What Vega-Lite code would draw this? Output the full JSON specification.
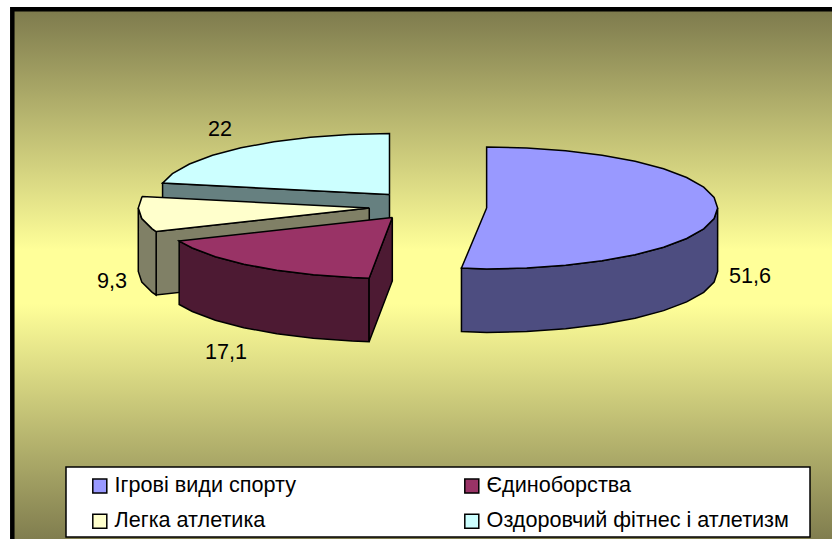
{
"$schema":"https://vega.github.io/schema/vega-lite/v6.json",
"width":832,"height":539,
"autosize":{"type":"fit","contains":"padding"},
"padding":0,
"background":"white",
"view":{"stroke":null},
"config":{"text":{"font":"Liberation Sans"}},
"layer":[
{"data":{"values":[{"x":-1.6784,"x2":1.9048,"y":3.259,"y2":-5.5246}]},
 "mark":{"type":"rect","clip":true,"stroke":"black","strokeWidth":4.5,"fill":{"gradient":"linear","x1":0,"y1":0,"x2":0,"y2":1,"stops":[{"offset":0,"color":"#7d7a4d"},{"offset":0.45,"color":"#ffff99"},{"offset":0.55,"color":"#ffff99"},{"offset":1,"color":"#7d7a4d"}]}},
 "encoding":{"x":{"field":"x","type":"quantitative","axis":null,"scale":{"domain":[-1.7316,1.8701],"nice":false,"zero":false}},"x2":{"field":"x2"},"y":{"field":"y","type":"quantitative","axis":null,"scale":{"domain":[-5.4262,3.4098],"nice":false,"zero":false}},"y2":{"field":"y2"}}},
{"data":{"values":[
{"face":"Оздоровчий фітнес і атлетизм, бік","part":"cut","i":0,"x":-0.0455,"y":0.221},
{"face":"Оздоровчий фітнес і атлетизм, бік","part":"cut","i":1,"x":-1.0278,"y":0.4084},
{"face":"Оздоровчий фітнес і атлетизм, бік","part":"cut","i":2,"x":-1.0278,"y":-0.6316},
{"face":"Оздоровчий фітнес і атлетизм, бік","part":"cut","i":3,"x":-0.0455,"y":-0.819},
{"face":"Оздоровчий фітнес і атлетизм, бік","part":"cut","i":4,"x":-0.0455,"y":0.221},
{"face":"Оздоровчий фітнес і атлетизм","part":"top","i":0,"x":-0.0455,"y":0.221},
{"face":"Оздоровчий фітнес і атлетизм","part":"top","i":1,"x":-1.0278,"y":0.4084},
{"face":"Оздоровчий фітнес і атлетизм","part":"top","i":2,"x":-0.9852,"y":0.563},
{"face":"Оздоровчий фітнес і атлетизм","part":"top","i":3,"x":-0.9115,"y":0.721},
{"face":"Оздоровчий фітнес і атлетизм","part":"top","i":4,"x":-0.8115,"y":0.8638},
{"face":"Оздоровчий фітнес і атлетизм","part":"top","i":5,"x":-0.6883,"y":0.987},
{"face":"Оздоровчий фітнес і атлетизм","part":"top","i":6,"x":-0.5455,"y":1.087},
{"face":"Оздоровчий фітнес і атлетизм","part":"top","i":7,"x":-0.3875,"y":1.1607},
{"face":"Оздоровчий фітнес і атлетизм","part":"top","i":8,"x":-0.2191,"y":1.2058},
{"face":"Оздоровчий фітнес і атлетизм","part":"top","i":9,"x":-0.0455,"y":1.221},
{"face":"Оздоровчий фітнес і атлетизм","part":"top","i":10,"x":-0.0455,"y":0.221},
{"face":"Легка атлетика, бік","part":"cut","i":0,"x":-0.133,"y":0},
{"face":"Легка атлетика, бік","part":"cut","i":1,"x":-1.0557,"y":-0.3856},
{"face":"Легка атлетика, бік","part":"cut","i":2,"x":-1.0557,"y":-1.4256},
{"face":"Легка атлетика, бік","part":"cut","i":3,"x":-0.133,"y":-1.04},
{"face":"Легка атлетика, бік","part":"cut","i":4,"x":-0.133,"y":0},
{"face":"Легка атлетика, бік","part":"outer","i":0,"x":-1.0557,"y":-0.3856},
{"face":"Легка атлетика, бік","part":"outer","i":1,"x":-1.0727,"y":-0.342},
{"face":"Легка атлетика, бік","part":"outer","i":2,"x":-1.1178,"y":-0.1736},
{"face":"Легка атлетика, бік","part":"outer","i":3,"x":-1.133,"y":0},
{"face":"Легка атлетика, бік","part":"outer","i":4,"x":-1.133,"y":-1.04},
{"face":"Легка атлетика, бік","part":"outer","i":5,"x":-1.1178,"y":-1.2136},
{"face":"Легка атлетика, бік","part":"outer","i":6,"x":-1.0727,"y":-1.382},
{"face":"Легка атлетика, бік","part":"outer","i":7,"x":-1.0557,"y":-1.4256},
{"face":"Легка атлетика, бік","part":"outer","i":8,"x":-1.0557,"y":-0.3856},
{"face":"Легка атлетика","part":"top","i":0,"x":-0.133,"y":0},
{"face":"Легка атлетика","part":"top","i":1,"x":-1.0557,"y":-0.3856},
{"face":"Легка атлетика","part":"top","i":2,"x":-1.0727,"y":-0.342},
{"face":"Легка атлетика","part":"top","i":3,"x":-1.1178,"y":-0.1736},
{"face":"Легка атлетика","part":"top","i":4,"x":-1.133,"y":0},
{"face":"Легка атлетика","part":"top","i":5,"x":-1.1178,"y":0.1736},
{"face":"Легка атлетика","part":"top","i":6,"x":-1.1153,"y":0.1874},
{"face":"Легка атлетика","part":"top","i":7,"x":-0.133,"y":0},
{"face":"Єдиноборства, бік","part":"outer","i":0,"x":-0.1337,"y":-1.151},
{"face":"Єдиноборства, бік","part":"outer","i":1,"x":-0.2069,"y":-1.1408},
{"face":"Єдиноборства, бік","part":"outer","i":2,"x":-0.3753,"y":-1.0957},
{"face":"Єдиноборства, бік","part":"outer","i":3,"x":-0.5333,"y":-1.022},
{"face":"Єдиноборства, бік","part":"outer","i":4,"x":-0.6761,"y":-0.922},
{"face":"Єдиноборства, бік","part":"outer","i":5,"x":-0.7993,"y":-0.7988},
{"face":"Єдиноборства, бік","part":"outer","i":6,"x":-0.8993,"y":-0.656},
{"face":"Єдиноборства, бік","part":"outer","i":7,"x":-0.956,"y":-0.5416},
{"face":"Єдиноборства, бік","part":"outer","i":8,"x":-0.956,"y":-1.5816},
{"face":"Єдиноборства, бік","part":"outer","i":9,"x":-0.8993,"y":-1.696},
{"face":"Єдиноборства, бік","part":"outer","i":10,"x":-0.7993,"y":-1.8388},
{"face":"Єдиноборства, бік","part":"outer","i":11,"x":-0.6761,"y":-1.962},
{"face":"Єдиноборства, бік","part":"outer","i":12,"x":-0.5333,"y":-2.062},
{"face":"Єдиноборства, бік","part":"outer","i":13,"x":-0.3753,"y":-2.1357},
{"face":"Єдиноборства, бік","part":"outer","i":14,"x":-0.2069,"y":-2.1808},
{"face":"Єдиноборства, бік","part":"outer","i":15,"x":-0.1337,"y":-2.191},
{"face":"Єдиноборства, бік","part":"outer","i":16,"x":-0.1337,"y":-1.151},
{"face":"Єдиноборства, бік","part":"cut","i":0,"x":-0.1337,"y":-1.151},
{"face":"Єдиноборства, бік","part":"cut","i":1,"x":-0.0333,"y":-0.156},
{"face":"Єдиноборства, бік","part":"cut","i":2,"x":-0.0333,"y":-1.196},
{"face":"Єдиноборства, бік","part":"cut","i":3,"x":-0.1337,"y":-2.191},
{"face":"Єдиноборства, бік","part":"cut","i":4,"x":-0.1337,"y":-1.151},
{"face":"Єдиноборства","part":"top","i":0,"x":-0.0333,"y":-0.156},
{"face":"Єдиноборства","part":"top","i":1,"x":-0.1337,"y":-1.151},
{"face":"Єдиноборства","part":"top","i":2,"x":-0.2069,"y":-1.1408},
{"face":"Єдиноборства","part":"top","i":3,"x":-0.3753,"y":-1.0957},
{"face":"Єдиноборства","part":"top","i":4,"x":-0.5333,"y":-1.022},
{"face":"Єдиноборства","part":"top","i":5,"x":-0.6761,"y":-0.922},
{"face":"Єдиноборства","part":"top","i":6,"x":-0.7993,"y":-0.7988},
{"face":"Єдиноборства","part":"top","i":7,"x":-0.8993,"y":-0.656},
{"face":"Єдиноборства","part":"top","i":8,"x":-0.956,"y":-0.5416},
{"face":"Єдиноборства","part":"top","i":9,"x":-0.0333,"y":-0.156},
{"face":"Ігрові види спорту, бік","part":"outer","i":0,"x":1.375,"y":0},
{"face":"Ігрові види спорту, бік","part":"outer","i":1,"x":1.3598,"y":-0.1736},
{"face":"Ігрові види спорту, бік","part":"outer","i":2,"x":1.3147,"y":-0.342},
{"face":"Ігрові види спорту, бік","part":"outer","i":3,"x":1.241,"y":-0.5},
{"face":"Ігрові види спорту, бік","part":"outer","i":4,"x":1.141,"y":-0.6428},
{"face":"Ігрові види спорту, бік","part":"outer","i":5,"x":1.0178,"y":-0.766},
{"face":"Ігрові види спорту, бік","part":"outer","i":6,"x":0.875,"y":-0.866},
{"face":"Ігрові види спорту, бік","part":"outer","i":7,"x":0.717,"y":-0.9397},
{"face":"Ігрові види спорту, бік","part":"outer","i":8,"x":0.5486,"y":-0.9848},
{"face":"Ігрові види спорту, бік","part":"outer","i":9,"x":0.375,"y":-1},
{"face":"Ігрові види спорту, бік","part":"outer","i":10,"x":0.266,"y":-0.985},
{"face":"Ігрові види спорту, бік","part":"outer","i":11,"x":0.266,"y":-2.025},
{"face":"Ігрові види спорту, бік","part":"outer","i":12,"x":0.375,"y":-2.04},
{"face":"Ігрові види спорту, бік","part":"outer","i":13,"x":0.5486,"y":-2.0248},
{"face":"Ігрові види спорту, бік","part":"outer","i":14,"x":0.717,"y":-1.9797},
{"face":"Ігрові види спорту, бік","part":"outer","i":15,"x":0.875,"y":-1.906},
{"face":"Ігрові види спорту, бік","part":"outer","i":16,"x":1.0178,"y":-1.806},
{"face":"Ігрові види спорту, бік","part":"outer","i":17,"x":1.141,"y":-1.6828},
{"face":"Ігрові види спорту, бік","part":"outer","i":18,"x":1.241,"y":-1.54},
{"face":"Ігрові види спорту, бік","part":"outer","i":19,"x":1.3147,"y":-1.382},
{"face":"Ігрові види спорту, бік","part":"outer","i":20,"x":1.3598,"y":-1.2136},
{"face":"Ігрові види спорту, бік","part":"outer","i":21,"x":1.375,"y":-1.04},
{"face":"Ігрові види спорту, бік","part":"outer","i":22,"x":1.375,"y":0},
{"face":"Ігрові види спорту","part":"top","i":0,"x":0.375,"y":0},
{"face":"Ігрові види спорту","part":"top","i":1,"x":0.375,"y":1},
{"face":"Ігрові види спорту","part":"top","i":2,"x":0.5486,"y":0.9848},
{"face":"Ігрові види спорту","part":"top","i":3,"x":0.717,"y":0.9397},
{"face":"Ігрові види спорту","part":"top","i":4,"x":0.875,"y":0.866},
{"face":"Ігрові види спорту","part":"top","i":5,"x":1.0178,"y":0.766},
{"face":"Ігрові види спорту","part":"top","i":6,"x":1.141,"y":0.6428},
{"face":"Ігрові види спорту","part":"top","i":7,"x":1.241,"y":0.5},
{"face":"Ігрові види спорту","part":"top","i":8,"x":1.3147,"y":0.342},
{"face":"Ігрові види спорту","part":"top","i":9,"x":1.3598,"y":0.1736},
{"face":"Ігрові види спорту","part":"top","i":10,"x":1.375,"y":0},
{"face":"Ігрові види спорту","part":"top","i":11,"x":1.3598,"y":-0.1736},
{"face":"Ігрові види спорту","part":"top","i":12,"x":1.3147,"y":-0.342},
{"face":"Ігрові види спорту","part":"top","i":13,"x":1.241,"y":-0.5},
{"face":"Ігрові види спорту","part":"top","i":14,"x":1.141,"y":-0.6428},
{"face":"Ігрові види спорту","part":"top","i":15,"x":1.0178,"y":-0.766},
{"face":"Ігрові види спорту","part":"top","i":16,"x":0.875,"y":-0.866},
{"face":"Ігрові види спорту","part":"top","i":17,"x":0.717,"y":-0.9397},
{"face":"Ігрові види спорту","part":"top","i":18,"x":0.5486,"y":-0.9848},
{"face":"Ігрові види спорту","part":"top","i":19,"x":0.375,"y":-1},
{"face":"Ігрові види спорту","part":"top","i":20,"x":0.266,"y":-0.985},
{"face":"Ігрові види спорту","part":"top","i":21,"x":0.375,"y":0}
]},
 "mark":{"type":"line","stroke":"black","strokeWidth":1.5,"strokeJoin":"miter"},
 "encoding":{
  "x":{"field":"x","type":"quantitative","axis":null},
  "y":{"field":"y","type":"quantitative","axis":null},
  "order":{"field":"i"},
  "detail":{"field":"part"},
  "fill":{"field":"face","type":"nominal",
   "scale":{"domain":["Ігрові види спорту","Єдиноборства","Легка атлетика","Оздоровчий фітнес і атлетизм","Ігрові види спорту, бік","Єдиноборства, бік","Легка атлетика, бік","Оздоровчий фітнес і атлетизм, бік"],
    "range":["#9999ff","#993366","#ffffcc","#ccffff","#4d4d80","#4d1a33","#808066","#668080"]},
   "legend":{"title":null,"orient":"none","legendX":89,"legendY":475,"direction":"horizontal","columns":2,"values":["Ігрові види спорту","Єдиноборства","Легка атлетика","Оздоровчий фітнес і атлетизм"],"symbolType":"square","symbolSize":196,"symbolStrokeColor":"black","symbolStrokeWidth":1.5,"labelFont":"Liberation Sans","labelFontSize":21.6,"labelColor":"black","labelOffset":4,"labelLimit":400,"rowPadding":12.5,"columnPadding":165,"padding":0,"gridAlign":"each"}}
 }},
{"data":{"values":[{"x":-1.4459,"x2":1.7749,"y":-4.2459,"y2":-5.3934}]},
 "mark":{"type":"rect","fill":"white","stroke":"black","strokeWidth":1.5},
 "encoding":{"x":{"field":"x","type":"quantitative","axis":null},"x2":{"field":"x2"},"y":{"field":"y","type":"quantitative","axis":null},"y2":{"field":"y2"}}},
{"data":{"values":[
{"category":"Ігрові види спорту","value":51.6,"label":"51,6","x":1.515,"y":-1.139},
{"category":"Єдиноборства","value":17.1,"label":"17,1","x":-0.753,"y":-2.369},
{"category":"Легка атлетика","value":9.3,"label":"9,3","x":-1.247,"y":-1.221},
{"category":"Оздоровчий фітнес і атлетизм","value":22,"label":"22","x":-0.779,"y":1.271}
]},
 "mark":{"type":"text","font":"Liberation Sans","fontSize":21.6,"color":"black","align":"center","baseline":"middle"},
 "encoding":{"x":{"field":"x","type":"quantitative","axis":null},"y":{"field":"y","type":"quantitative","axis":null},"text":{"field":"label"}}}
]
}
